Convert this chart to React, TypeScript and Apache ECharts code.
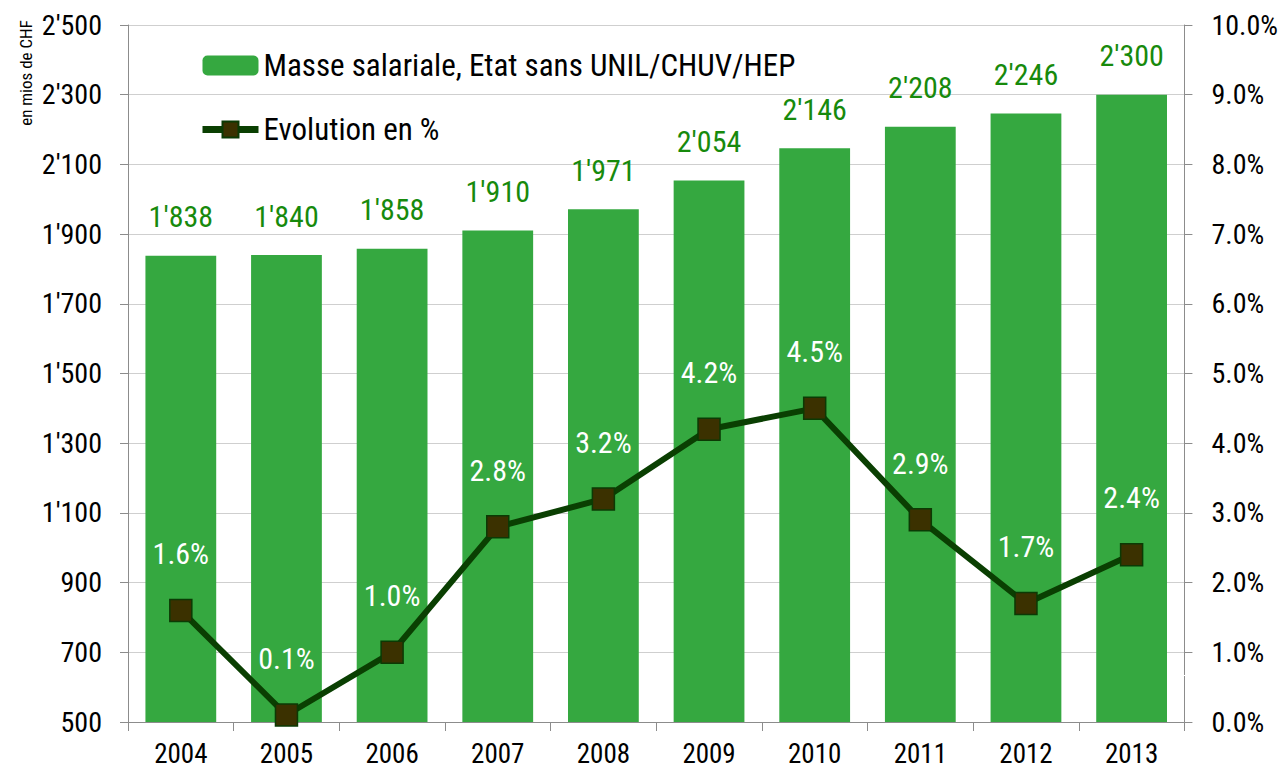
import React, { useEffect, useRef } from "react";
import * as echarts from "echarts";

const years = ["2004", "2005", "2006", "2007", "2008", "2009", "2010", "2011", "2012", "2013"];
const masseSalariale = [1838, 1840, 1858, 1910, 1971, 2054, 2146, 2208, 2246, 2300];
const evolution = [1.6, 0.1, 1.0, 2.8, 3.2, 4.2, 4.5, 2.9, 1.7, 2.4];
const barName = "Masse salariale, Etat sans UNIL/CHUV/HEP";
const lineName = "Evolution en %";
const unitLabel = "en mios de CHF";

const FONT = "'Roboto Condensed', 'Liberation Sans', sans-serif";

function fmtThousands(v: number): string {
  const n = Math.round(v);
  if (n >= 1000) {
    const rest = String(n % 1000).padStart(3, "0");
    return Math.floor(n / 1000) + "'" + rest;
  }
  return String(n);
}

export default function App() {
  const ref = useRef<HTMLDivElement>(null);
  useEffect(() => {
    if (!ref.current) return;
    const chart = echarts.init(ref.current, null, { renderer: "svg" });
    chart.setOption({
      animation: false,
      backgroundColor: "#ffffff",
      textStyle: { fontFamily: FONT },
      grid: { left: 128, right: 95, top: 25, bottom: 47 },
      legend: {
        orient: "vertical",
        left: 194,
        top: 45,
        itemGap: 33,
        itemWidth: 56,
        itemHeight: 20,
        textStyle: { fontSize: 31, color: "#000", fontFamily: FONT },
        data: [
          { name: barName },
          { name: lineName, lineStyle: { width: 7, color: "#0a3f02" } },
        ],
      },
      xAxis: {
        type: "category",
        data: years,
        axisLine: { lineStyle: { color: "#8c8c8c", width: 1 } },
        axisTick: { show: true, length: 9, lineStyle: { color: "#8c8c8c" } },
        axisLabel: { fontSize: 27, color: "#000", margin: 18, fontFamily: FONT },
      },
      yAxis: [
        {
          type: "value",
          min: 500,
          max: 2500,
          interval: 200,
          axisLine: { show: true, lineStyle: { color: "#8c8c8c" } },
          axisTick: { show: true, length: 8, lineStyle: { color: "#8c8c8c" } },
          splitLine: { show: true, lineStyle: { color: "#cfcfcf", width: 1 } },
          axisLabel: { fontSize: 28, color: "#000", margin: 26, formatter: (v: number) => fmtThousands(v), fontFamily: FONT },
        },
        {
          type: "value",
          min: 0,
          max: 10,
          interval: 1,
          axisLine: { show: true, lineStyle: { color: "#8c8c8c" } },
          axisTick: { show: true, length: 8, lineStyle: { color: "#8c8c8c" } },
          splitLine: { show: false },
          axisLabel: { fontSize: 28, color: "#000", margin: 27, formatter: (v: number) => v.toFixed(1) + "%", fontFamily: FONT },
        },
      ],
      series: [
        {
          name: barName,
          type: "bar",
          yAxisIndex: 0,
          data: masseSalariale,
          barWidth: "67%",
          itemStyle: { color: "#35a840" },
          label: {
            show: true,
            position: "top",
            distance: 24,
            fontSize: 30,
            fontWeight: "normal",
            color: "#178a0c",
            fontFamily: FONT,
            formatter: (p: any) => fmtThousands(p.value),
          },
        },
        {
          name: lineName,
          type: "line",
          yAxisIndex: 1,
          data: evolution,
          symbol: "rect",
          symbolSize: 22,
          lineStyle: { color: "#0a3f02", width: 6 },
          itemStyle: { color: "#3b3100", borderColor: "#0b3a04", borderWidth: 1.5 },
          label: {
            show: true,
            position: "top",
            distance: 30,
            fontSize: 30,
            color: "#ffffff",
            fontFamily: FONT,
            formatter: (p: any) => Number(p.value).toFixed(1) + "%",
          },
          z: 5,
        },
      ],
      graphic: [
        {
          type: "text",
          x: 26,
          y: 73,
          rotation: Math.PI / 2,
          style: {
            text: unitLabel,
            fontSize: 17,
            fontFamily: FONT,
            fill: "#000",
            align: "center",
            verticalAlign: "middle",
          },
        },
        {
          type: "line",
          z: 1,
          shape: { x1: 130, y1: 675.5, x2: 1190, y2: 675.5 },
          style: { stroke: "#ffffff", lineWidth: 1 },
        },
      ],
    });
    return () => chart.dispose();
  }, []);
  return <div ref={ref} style={{ position: "fixed", left: 0, top: 0, width: 1281, height: 769 }} />;
}
